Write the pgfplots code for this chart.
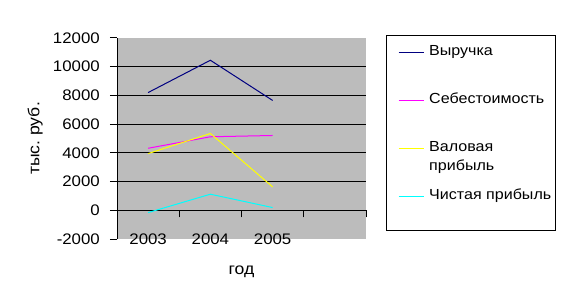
\documentclass[border=0pt]{standalone}
\usepackage{pgfplots}
\pgfplotsset{compat=1.18}
\usepackage{fontspec}
\setmainfont{Liberation Sans}[FakeStretch=1.1]
\frenchspacing
\newcommand\fa{\fontsize{15.3bp}{18bp}\selectfont}
\newcommand\fl{\fontsize{14.6bp}{18bp}\selectfont}
\newcommand\fb{\fontsize{16bp}{19bp}\selectfont}
\definecolor{navyc}{RGB}{0,0,128}
\definecolor{magc}{RGB}{255,0,255}
\definecolor{yelc}{RGB}{255,255,0}
\definecolor{cyac}{RGB}{0,255,255}
\definecolor{plotbg}{RGB}{188,188,188}
\begin{document}
\begin{tikzpicture}
\path[use as bounding box] (0bp,0bp) rectangle (561bp,303bp);
\begin{axis}[
  at={(117bp,64bp)}, anchor=south west,
  scale only axis, width=249bp, height=201bp,
  xmin=0.5, xmax=4.5, ymin=-2000, ymax=12000,
  axis x line*=middle, axis y line*=left,
  x axis line style={-, black, line width=1bp},
  y axis line style={-, black, line width=1bp},
  axis background/.style={fill=plotbg},
  xtick={1.5,2.5,3.5,4.5}, xticklabels={},
  extra x ticks={1,2,3}, extra x tick labels={2003,2004,2005},
  extra x tick style={major tick length=0pt},
  ytick={-2000,0,...,12000},
  extra y ticks={2000,4000,6000,8000,10000},
  extra y tick style={grid=major, major tick length=0pt},
  extra y tick labels={},
  grid style={black, line width=1bp},
  scaled y ticks=false,
  tick align=outside,
  ytick pos=left,
  tick style={black, line width=1bp},
  major tick length=7bp,
  /pgf/number format/assume math mode=true,
  /pgf/number format/1000 sep={},
  yticklabel style={font=\fa, anchor=east, inner sep=0pt, xshift=-10bp},
  xticklabel style={font=\fa, anchor=north, inner sep=0pt, yshift=-23bp},
  xlabel={год}, ylabel={тыс. руб.},
  every axis x label/.style={at={(axis description cs:0.5,-0.165)}, anchor=center, font=\fb},
  every axis y label/.style={at={(axis description cs:-0.329,0.5)}, anchor=center, rotate=90, font=\fb},
  clip=false,
  legend image code/.code={\draw[#1] (0bp,0bp) -- (25bp,0bp);},
  legend cell align=left,
  legend style={draw=none, fill=none, at={(axis description cs:1.1285,0.9652)}, anchor=north west,
    inner sep=0pt, row sep=34bp, column sep=5bp,
    nodes={inner sep=0pt, text height=10.5bp, text depth=3.5bp, font=\fl}},
]
\addplot[navyc, line width=1bp] coordinates {(1,8200) (2,10450) (3,7650)};
\addlegendentry{Выручка}
\addplot[magc, line width=1bp] coordinates {(1,4320) (2,5120) (3,5210)};
\addlegendentry{Себестоимость}
\addplot[yelc, line width=1bp] coordinates {(1,3950) (2,5350) (3,1630)};
\addlegendentry{\makebox[0pt][l]{\smash{\raisebox{-19bp}{прибыль}}}Валовая}
\addplot[cyac, line width=1bp] coordinates {(1,-160) (2,1120) (3,190)};
\addlegendentry{Чистая прибыль}
\end{axis}
\draw[black, line width=1bp] (386bp,267bp) rectangle (555bp,72bp);
\end{tikzpicture}
\end{document}
